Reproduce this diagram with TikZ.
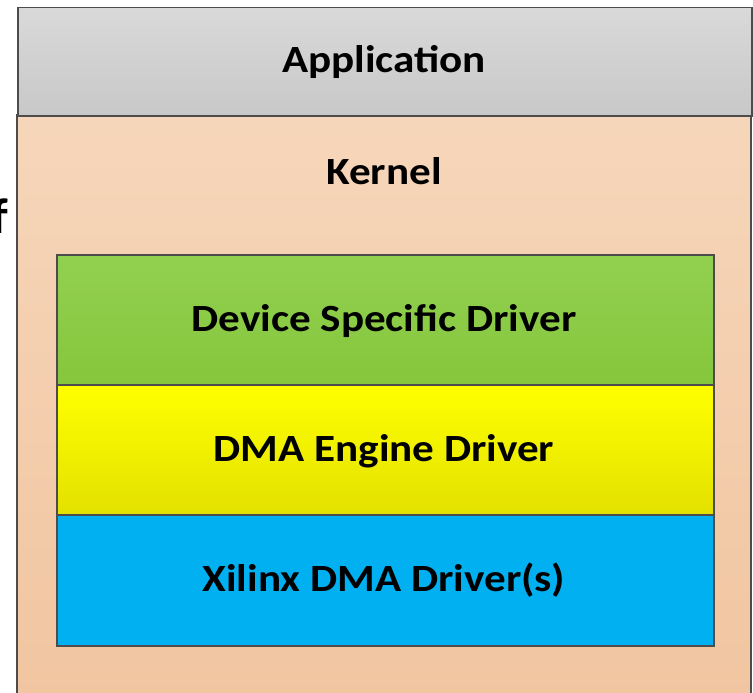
\documentclass[tikz,border=0pt]{standalone}
\usepackage{fontspec}
\setmainfont{Carlito}
\newfontfamily\lblfont[FakeStretch=1.12]{Carlito}
\begin{document}
\begin{tikzpicture}[x=1pt,y=-1pt,
  layer/.style={draw=black!70,line width=1.5pt},
  lbl/.style={font=\lblfont\bfseries\fontsize{38.5}{44}\selectfont,anchor=base,inner sep=0pt,text=black}]
\useasboundingbox (0,0) rectangle (753,693);
% kernel region
\path[shading=axis,top color={rgb,255:red,246;green,214;blue,186},bottom color={rgb,255:red,241;green,197;blue,160}] (17,115) rectangle (751,700);
\draw[black!70,line width=1.5pt] (17,700) -- (17,115) -- (751,115) -- (751,700);
% application
\node[layer,shading=axis,top color={rgb,255:red,217;green,217;blue,217},bottom color={rgb,255:red,200;green,200;blue,200},minimum width=734pt,minimum height=108pt,anchor=north west,inner sep=0pt] (app) at (17,7) {};
% drivers
\node[layer,shading=axis,top color={rgb,255:red,146;green,208;blue,80},bottom color={rgb,255:red,134;green,198;blue,60},minimum width=657pt,minimum height=130pt,anchor=north west,inner sep=0pt] (dev) at (56,254) {};
\node[layer,shading=axis,top color={rgb,255:red,255;green,255;blue,0},bottom color={rgb,255:red,227;green,225;blue,0},minimum width=657pt,minimum height=130pt,anchor=north west,inner sep=0pt] (dma) at (56,384) {};
\node[layer,fill={rgb,255:red,0;green,176;blue,240},minimum width=657pt,minimum height=131pt,anchor=north west,inner sep=0pt] (xil) at (56,514) {};
% labels
\node[lbl] (tapp) at (384,73) {Application};
\node[lbl] (tker) at (384,184) {Kernel};
\node[lbl] (tdev) at (384,331) {Device Specific Driver};
\node[lbl] (tdma) at (384,461) {DMA Engine Driver};
\node[lbl] (txil) at (384,591) {Xilinx DMA Driver(s)};
\node[lbl,font=\lblfont\bfseries\fontsize{50}{56}\selectfont,anchor=base east] (tf) at (8,233) {f};
\end{tikzpicture}
\end{document}
